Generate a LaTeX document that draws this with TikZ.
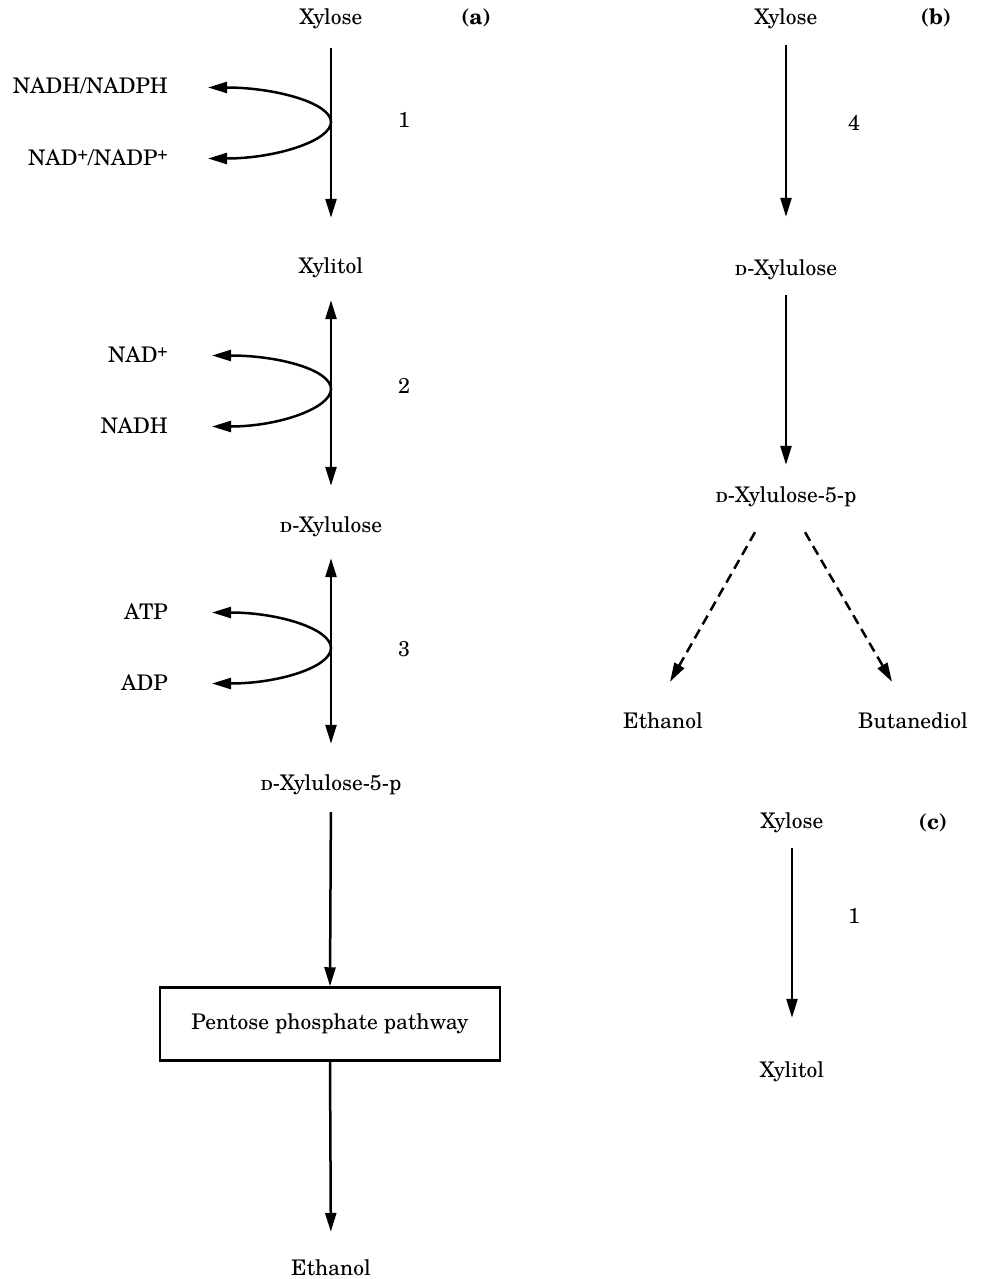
\documentclass[tikz,border=0pt]{standalone}
\usepackage{fontspec}
\setmainfont{TeX Gyre Schola}
\usetikzlibrary{arrows.meta}
\newcommand\ionp{\raisebox{0.55ex}{\fontsize{17}{17}\selectfont +}}

\begin{document}
\begin{tikzpicture}[x=1pt,y=-1pt,
  chem/.style={inner sep=0pt,text height=13pt,text depth=0pt,anchor=base,
               font=\fontsize{21.5}{25}\selectfont},
  cof/.style={chem,anchor=base east},
  tag/.style={chem,font=\fontsize{21.5}{25}\selectfont\bfseries},
  box/.style={draw,line width=2.5pt,minimum width=340pt,minimum height=73pt,
              font=\fontsize{21.5}{25}\selectfont},
  rx/.style={line width=2.5pt,-{Triangle[length=19pt,width=11pt]}},
  rev/.style={line width=2.5pt,
              {Triangle[length=19pt,width=11pt]}-{Triangle[length=19pt,width=11pt]}},
  side/.style={line width=2.5pt,
              {Triangle[length=19pt,width=11pt]}-{Triangle[length=19pt,width=11pt]}},
  dashrx/.style={rx,dash pattern=on 10pt off 6pt}]
  \useasboundingbox (0,0) rectangle (983,1279);

  % (a) xylose reductase route
  \node[chem] (xylA) at (331,25)  {Xylose};
  \node[tag]  (tagA) at (476,25)  {(a)};
  \node[chem] (xolA) at (331,273) {Xylitol};
  \node[chem] (xluA) at (331,532) {\textsc{d}-Xylulose};
  \node[chem] (x5pA) at (331,790) {\textsc{d}-Xylulose-5-p};
  \node[box]  (ppp)  at (330,1024){Pentose phosphate pathway};
  \node[chem] (ethA) at (331,1275){Ethanol};

  \node[cof] (nadph) at (168,94)  {NADH/NADPH};
  \node[cof] (nadp)  at (168,165) {NAD\ionp/NADP\ionp};
  \node[cof] (nadA)  at (168,362) {NAD\ionp};
  \node[cof] (nadhA) at (168,433) {NADH};
  \node[cof] (atp)   at (168,619) {ATP};
  \node[cof] (adp)   at (168,690) {ADP};

  \node[chem] (e1) at (404,128) {1};
  \node[chem] (e2) at (404,393) {2};
  \node[chem] (e3) at (404,656) {3};

  \coordinate (j1) at (331,122);
  \coordinate (j2) at (331,389);
  \coordinate (j3) at (331,648);

  \draw[rx,shorten <=23pt,shorten >=42pt]  (xylA.south) -- (xolA.north);
  \draw[rev,shorten <=27pt,shorten >=33pt] (xolA.south) -- (xluA.north);
  \draw[rev,shorten <=26pt,shorten >=33pt] (xluA.south) -- (x5pA.north);
  \draw[rx,shorten <=22pt]                 (x5pA.south) -- (ppp.north);
  \draw[rx,shorten >=30pt]                 (ppp.south)  -- (ethA.north);

  \draw[side] ([xshift=40pt]nadph.east) .. controls +(67,0) and +(0,-19) .. (j1)
              .. controls +(0,19) and +(67,0) .. ([xshift=40pt]nadp.east);
  \draw[side] ([xshift=44pt]nadA.east) .. controls +(67,0) and +(0,-19) .. (j2)
              .. controls +(0,19) and +(67,0) .. ([xshift=44pt]nadhA.east);
  \draw[side] ([xshift=44pt]atp.east) .. controls +(67,0) and +(0,-19) .. (j3)
              .. controls +(0,19) and +(67,0) .. ([xshift=44pt]adp.east);

  % (b) xylose isomerase route
  \node[chem] (xylB) at (786,25)  {Xylose};
  \node[tag]  (tagB) at (936,25)  {(b)};
  \node[chem] (xluB) at (786,275) {\textsc{d}-Xylulose};
  \node[chem] (x5pB) at (786,502) {\textsc{d}-Xylulose-5-p};
  \node[chem] (ethB) at (663,728) {Ethanol};
  \node[chem] (butB) at (913,728) {Butanediol};
  \node[chem] (e4)   at (854,131) {4};

  \draw[rx,shorten <=20pt,shorten >=45pt] (xylB.south) -- (xluB.north);
  \draw[rx,shorten <=20pt,shorten >=24pt] (xluB.south) -- (x5pB.north);
  \draw[dashrx] ([xshift=-31pt,yshift=-30pt]x5pB.south)
             -- ([xshift=7pt,yshift=33pt]ethB.north);
  \draw[dashrx] ([xshift=19pt,yshift=-30pt]x5pB.south)
             -- ([xshift=-21pt,yshift=33pt]butB.north);

  % (c) reduction only
  \node[chem] (xylC) at (792,828)  {Xylose};
  \node[tag]  (tagC) at (933,829)  {(c)};
  \node[chem] (xolC) at (792,1077) {Xylitol};
  \node[chem] (e1c)  at (854,923)  {1};

  \draw[rx,shorten <=20pt,shorten >=46pt] (xylC.south) -- (xolC.north);
\end{tikzpicture}
\end{document}
